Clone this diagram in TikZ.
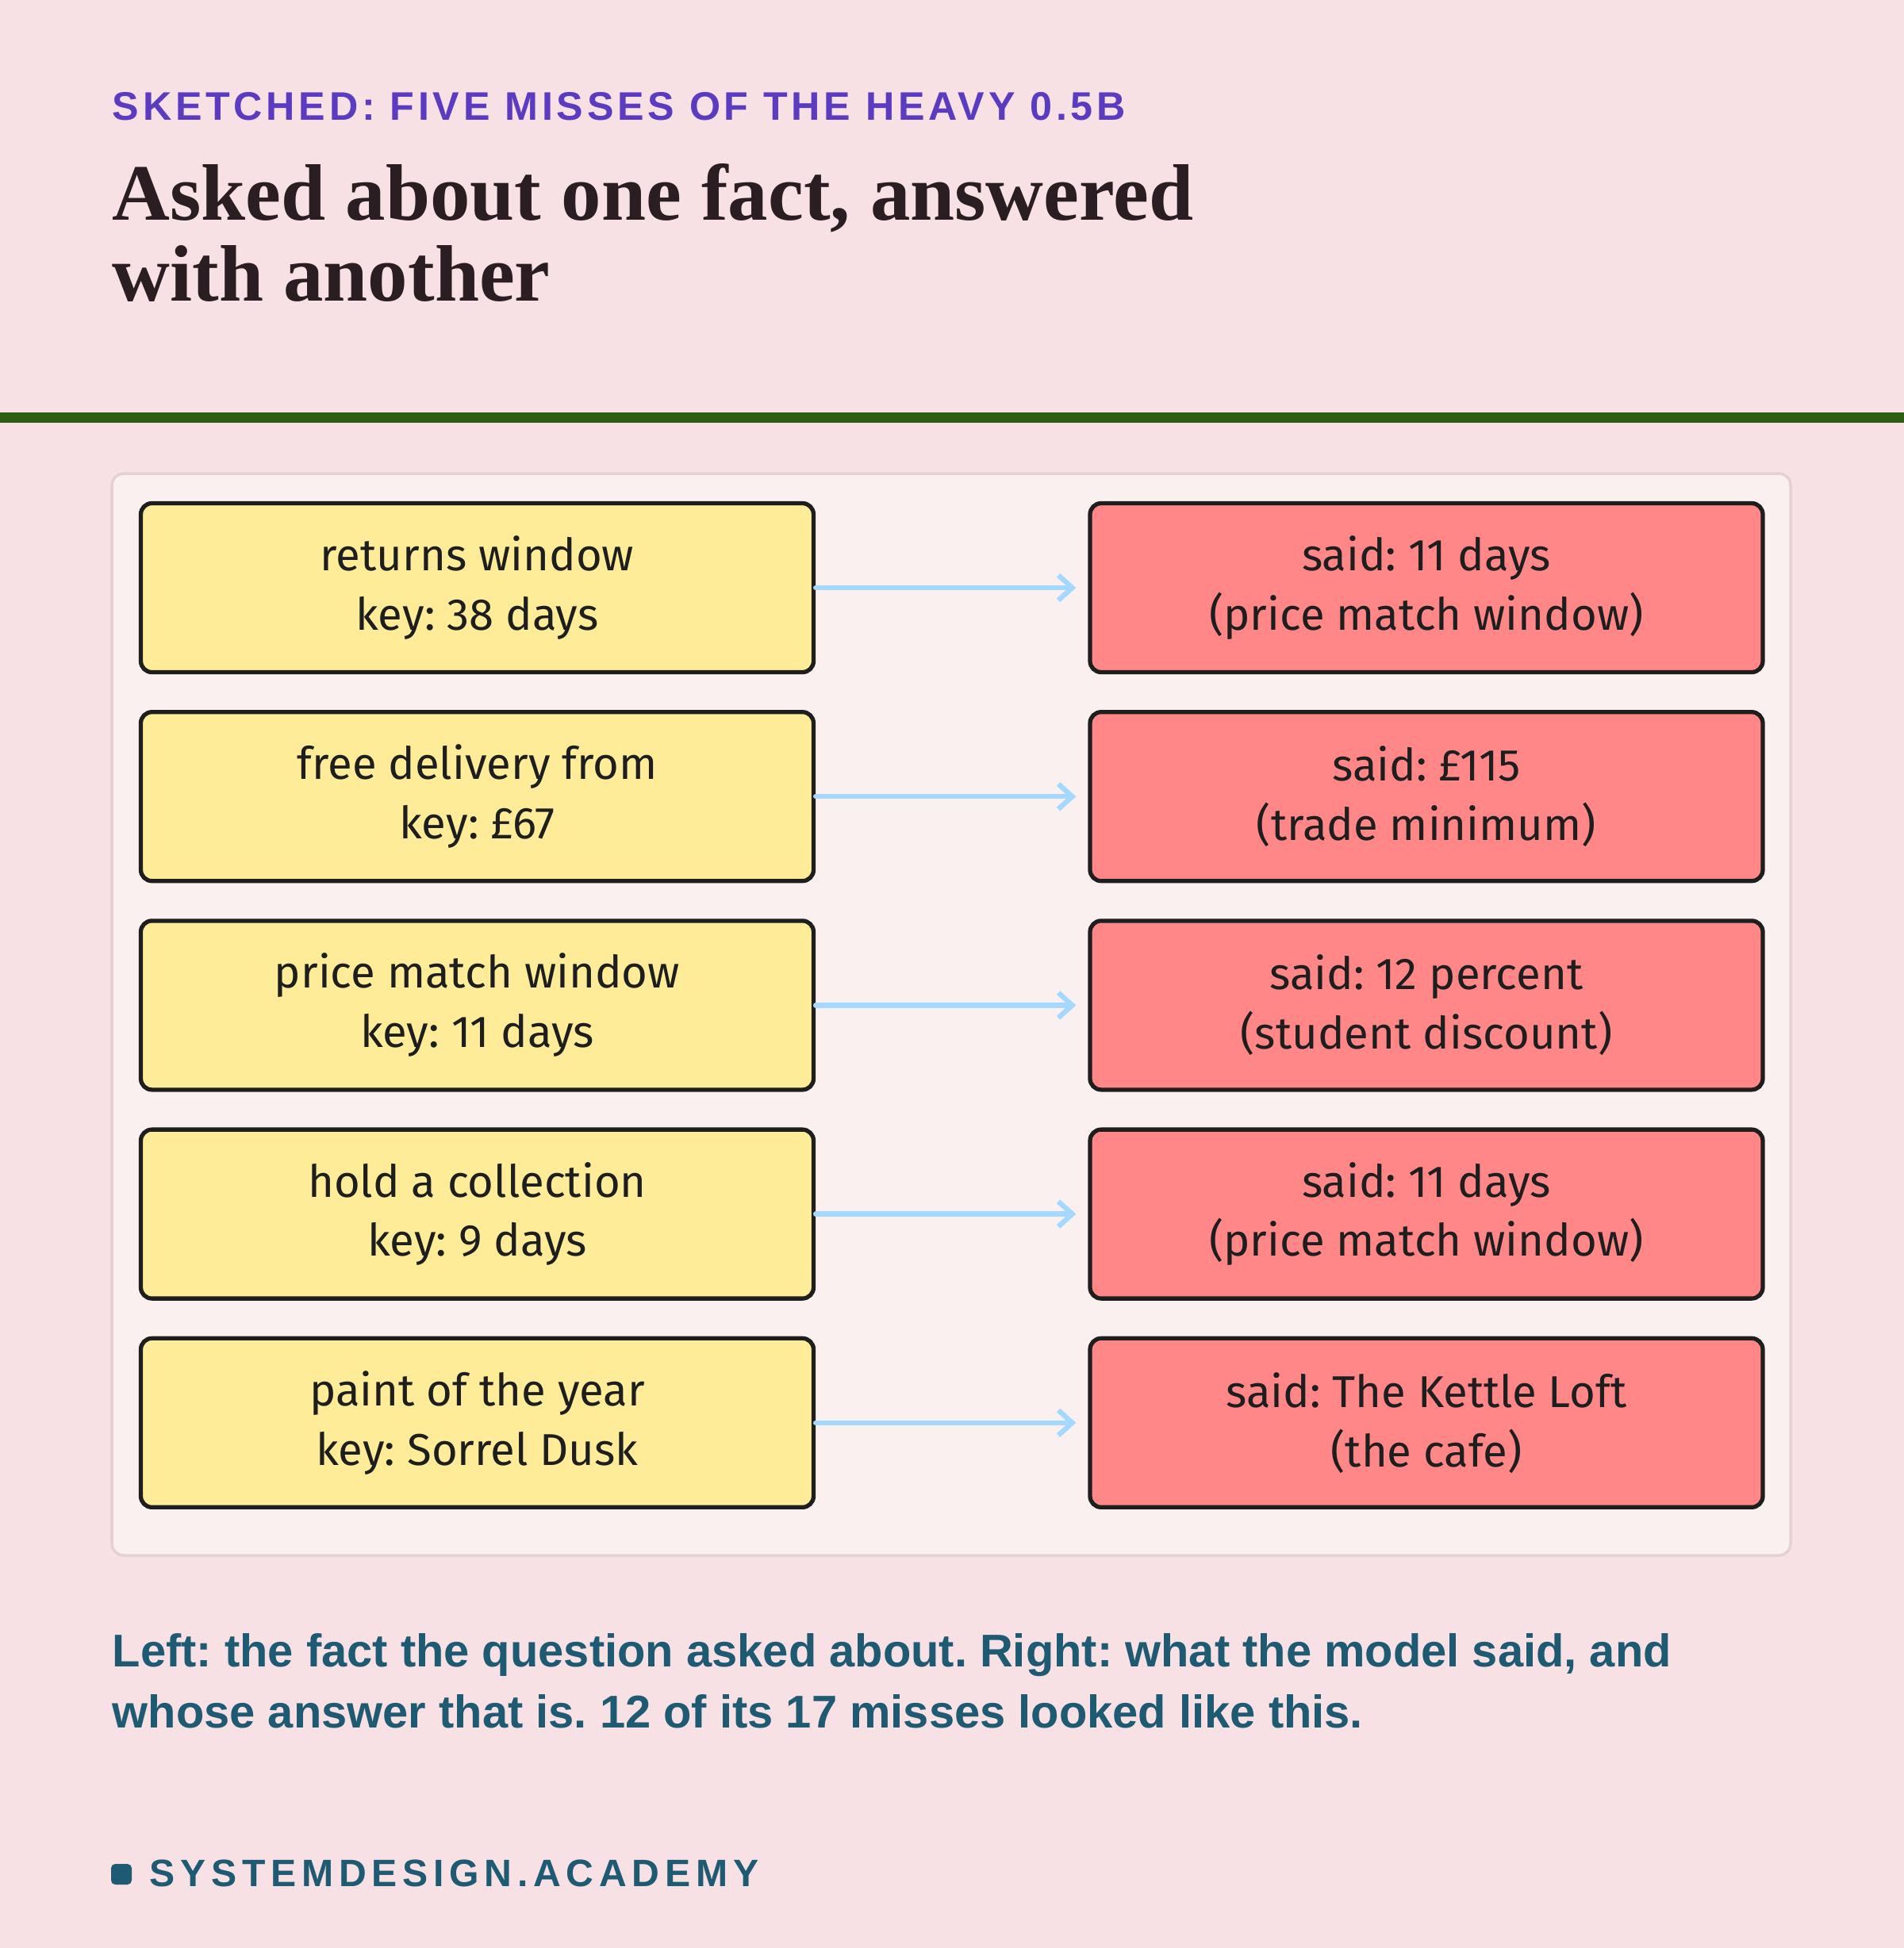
\documentclass[tikz,border=0pt]{standalone}
\usepackage{fontspec}
\setmainfont{Liberation Serif}
\setsansfont{Liberation Sans}
\newfontfamily\handfont{Fira Sans}
\newfontfamily\sperrfont[LetterSpace=9.5]{Liberation Sans}
\newfontfamily\fussfont[LetterSpace=14]{Liberation Sans}
\usetikzlibrary{arrows.meta}
\frenchspacing

\definecolor{hintergrund}{HTML}{F8E1E4}
\definecolor{tafel}{HTML}{FAF0F0}
\definecolor{tafelrand}{HTML}{E7D0D4}
\definecolor{gruen}{HTML}{2E5E12}
\definecolor{lila}{HTML}{5B3CC0}
\definecolor{tinte}{HTML}{2A1E22}
\definecolor{petrol}{HTML}{1E5A72}
\definecolor{gelb}{HTML}{FFEC99}
\definecolor{rot}{HTML}{FF8787}
\definecolor{strich}{HTML}{1E1E1E}
\definecolor{hellblau}{HTML}{A5D8FF}

\begin{document}
\begin{tikzpicture}[
  kasten/.style={draw=strich, line width=1.5pt, rounded corners=0.14cm,
    minimum width=8.48cm, minimum height=2.13cm, align=center,
    text=strich, font=\handfont\fontsize{16}{21.3}\selectfont},
  links/.style={kasten, fill=gelb},
  rechts/.style={kasten, fill=rot},
  pfeil/.style={draw=hellblau, line width=1.8pt, line cap=round,
    -{Straight Barb[length=5pt,width=9pt]}, shorten >=0.15cm}
]
  % Rahmen
  \useasboundingbox (0,0) rectangle (24,-24.56);
  \fill[hintergrund] (0,0) rectangle (24,-24.56);
  % Kopfzeile
  \node[anchor=base west, inner sep=0, text=lila,
    font=\sperrfont\bfseries\fontsize{14.3}{17}\selectfont] (kicker) at (1.41,-1.51)
    {SKETCHED: FIVE MISSES OF THE HEAVY 0.5B};
  \node[anchor=base west, inner sep=0, text=tinte, align=left,
    font=\bfseries\fontsize{28.7}{29}\selectfont] (titel) at (1.41,-3.79)
    {Asked about one fact, answered\\with another};
  % Trennlinie
  \fill[gruen] (0,-5.20) rectangle (24,-5.33);
  % Tafel
  \draw[fill=tafel, draw=tafelrand, line width=1pt, rounded corners=0.15cm]
    (1.41,-5.97) rectangle (22.57,-19.61);
  % Zeilen
  \foreach \i/\la/\lb/\ra/\rb in {
    1/{returns window}/{key: 38 days}/{said: 11 days}/{(price match window)},
    2/{free delivery from}/{key: £67}/{said: £115}/{(trade minimum)},
    3/{price match window}/{key: 11 days}/{said: 12 percent}/{(student discount)},
    4/{hold a collection}/{key: 9 days}/{said: 11 days}/{(price match window)},
    5/{paint of the year}/{key: Sorrel Dusk}/{said: The Kettle Loft}/{(the cafe)}} {
    \node[links] (l\i) at (6.015,{-7.41-2.632*(\i-1)}) {\la\\\lb};
    \node[rechts] (r\i) at (17.98,{-7.41-2.632*(\i-1)}) {\ra\\\rb};
    \draw[pfeil] (l\i.east) -- (r\i.west);
  }
  % Unterschrift
  \node[anchor=base west, inner sep=0, text=petrol, align=left,
    font=\sffamily\bfseries\fontsize{16.47}{21.9}\selectfont] (notiz) at (1.41,-21.78)
    {Left: the fact the question asked about. Right: what the model said, and\\
     whose answer that is. 12 of its 17 misses looked like this.};
  % Fusszeile
  \fill[petrol, rounded corners=1.5pt] (1.40,-23.50) rectangle (1.66,-23.76);
  \node[anchor=base west, inner sep=0, text=petrol,
    font=\fussfont\bfseries\fontsize{13.7}{16}\selectfont] (marke) at (1.88,-23.78)
    {SYSTEMDESIGN.ACADEMY};
\end{tikzpicture}
\end{document}
